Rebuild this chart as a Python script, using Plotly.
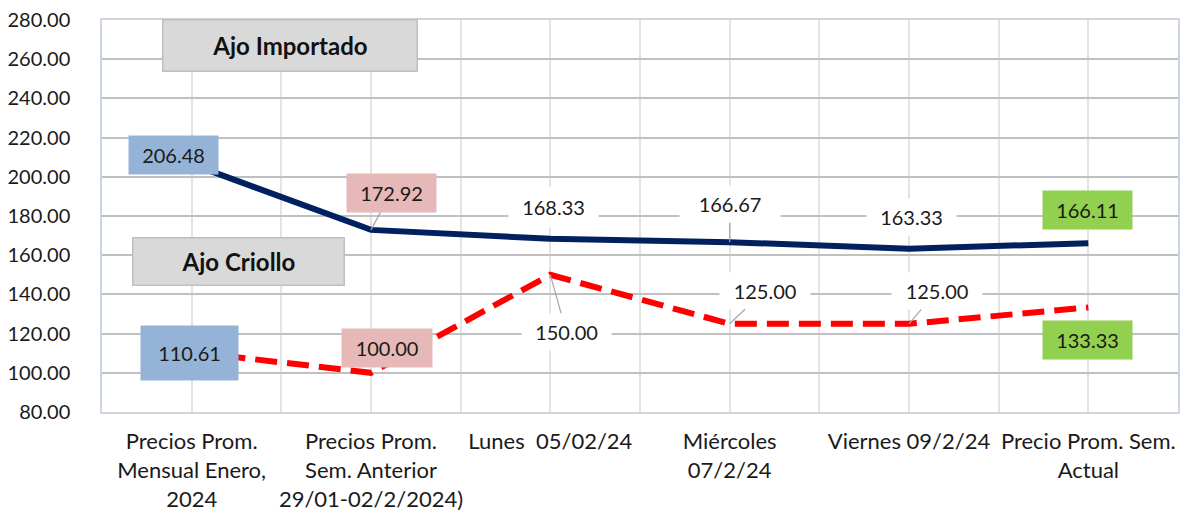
import plotly.graph_objects as go

categories = [
    "Precios Prom.<br>Mensual Enero,<br>2024",
    "Precios Prom.<br>Sem. Anterior<br>29/01-02/2/2024)",
    "Lunes  05/02/24",
    "Miércoles<br>07/2/24",
    "Viernes 09/2/24",
    "Precio Prom. Sem.<br>Actual",
]
importado = [206.48, 172.92, 168.33, 166.67, 163.33, 166.11]
criollo = [110.61, 100.00, 150.00, 125.00, 125.00, 133.33]
y_ticks = [80, 100, 120, 140, 160, 180, 200, 220, 240, 260, 280]

FONT = "Lato"
BLUE = "#95b3d7"
PINK = "#e6b8b7"
GREEN = "#92d050"
WHITE = "#ffffff"
LEADER = "#a6a6a6"

xs = list(range(len(categories)))

fig = go.Figure()
fig.add_trace(go.Scatter(
    x=xs, y=importado, mode="lines", name="Ajo Importado",
    line=dict(color="#002060", width=6), hoverinfo="skip"))
fig.add_trace(go.Scatter(
    x=xs, y=criollo, mode="lines", name="Ajo Criollo",
    line=dict(color="#ff0000", width=6, dash="22px,10px"), hoverinfo="skip"))

# label styles: (bg, mode, dx, dy, w, h, leader)
imp_styles = [
    (BLUE, "box", -18, 9, 89, 38, False),
    (PINK, "arrow", 20, -37, 89, 38, True),
    (WHITE, "arrow", 3, -32, 89, 40, False),
    (WHITE, "arrow", 0, -38, 100, 36, True),
    (WHITE, "arrow", 2, -32, 89, 36, False),
    (GREEN, "box", -1, 33, 89, 38, False),
]
cri_styles = [
    (BLUE, "box", -2, -1, 97, 54, False),
    (PINK, "box", 16, 25, 90, 38, False),
    (WHITE, "arrow", 16, 57, 89, 36, True),
    (WHITE, "arrow", 35, -33, 90, 36, True),
    (WHITE, "arrow", 28, -33, 90, 36, True),
    (GREEN, "box", -1, -33, 89, 38, False),
]

annotations = []
for series, styles in ((importado, imp_styles), (criollo, cri_styles)):
    for i, (v, st) in enumerate(zip(series, styles)):
        bg, mode, dx, dy, w, h, leader = st
        base = dict(x=i, y=v, xref="x", yref="y", text=f"{v:.2f}",
                    font=dict(family=FONT, size=20, color="#1a1a1a"),
                    bgcolor=bg, borderpad=0, width=w, height=h,
                    align="center", valign="middle",
                    xanchor="center", yanchor="middle")
        if mode == "box":
            base.update(showarrow=False, xshift=dx, yshift=dy)
        else:
            base.update(showarrow=True, ax=dx, ay=dy, arrowhead=0,
                        arrowwidth=1.2, standoff=0,
                        arrowcolor=LEADER if leader else "rgba(0,0,0,0)")
        annotations.append(base)

for txt, px, py, w, h in (("Ajo Importado", 0.1747, 0.936, 253, 50),
                           ("Ajo Criollo", 0.1264, 0.385, 210, 46)):
    annotations.append(dict(
        x=px, y=py, xref="paper", yref="paper", text=f"<b>{txt}</b>",
        xanchor="center", yanchor="middle",
        showarrow=False, font=dict(family=FONT, size=24, color="#111111"),
        bgcolor="#d9d9d9", bordercolor="#bfbfbf", borderwidth=1.5,
        borderpad=0, width=w, height=h, align="center", valign="middle"))

fig.update_layout(
    width=1186, height=516,
    margin=dict(l=102, r=8, t=20, b=104, autoexpand=False),
    paper_bgcolor="white", plot_bgcolor="white",
    showlegend=False,
    annotations=annotations,
    xaxis=dict(
        range=[-0.5, len(categories) - 0.5],
        tickmode="array", tickvals=xs, ticktext=categories,
        tickfont=dict(family=FONT, size=22, color="#1a1a1a"),
        showgrid=True, gridcolor="#e3e3e3", gridwidth=1.5,
        minor=dict(tickmode="array",
                   tickvals=[i + 0.5 for i in xs[:-1]],
                   showgrid=True, gridcolor="#e3e3e3", gridwidth=1.5),
        showline=True, linecolor="#d4d4d4", linewidth=2, mirror=True,
        ticks="", zeroline=False, ticklabelstandoff=9, automargin=False,
    ),
    yaxis=dict(
        range=[80, 280], tickmode="array", tickvals=y_ticks,
        tickformat=".2f",
        tickfont=dict(family=FONT, size=20, color="#1a1a1a"),
        showgrid=True, gridcolor="#c0c0c0", gridwidth=1.5,
        showline=True, linecolor="#c9d6ea", linewidth=1.5, mirror=True,
        ticks="", zeroline=False, ticklabelstandoff=26, automargin=False,
    ),
)

fig.write_html(
    "out.html",
    config={"displayModeBar": False},
    post_script="document.body.style.margin='0';document.body.style.overflow='hidden';",
)
